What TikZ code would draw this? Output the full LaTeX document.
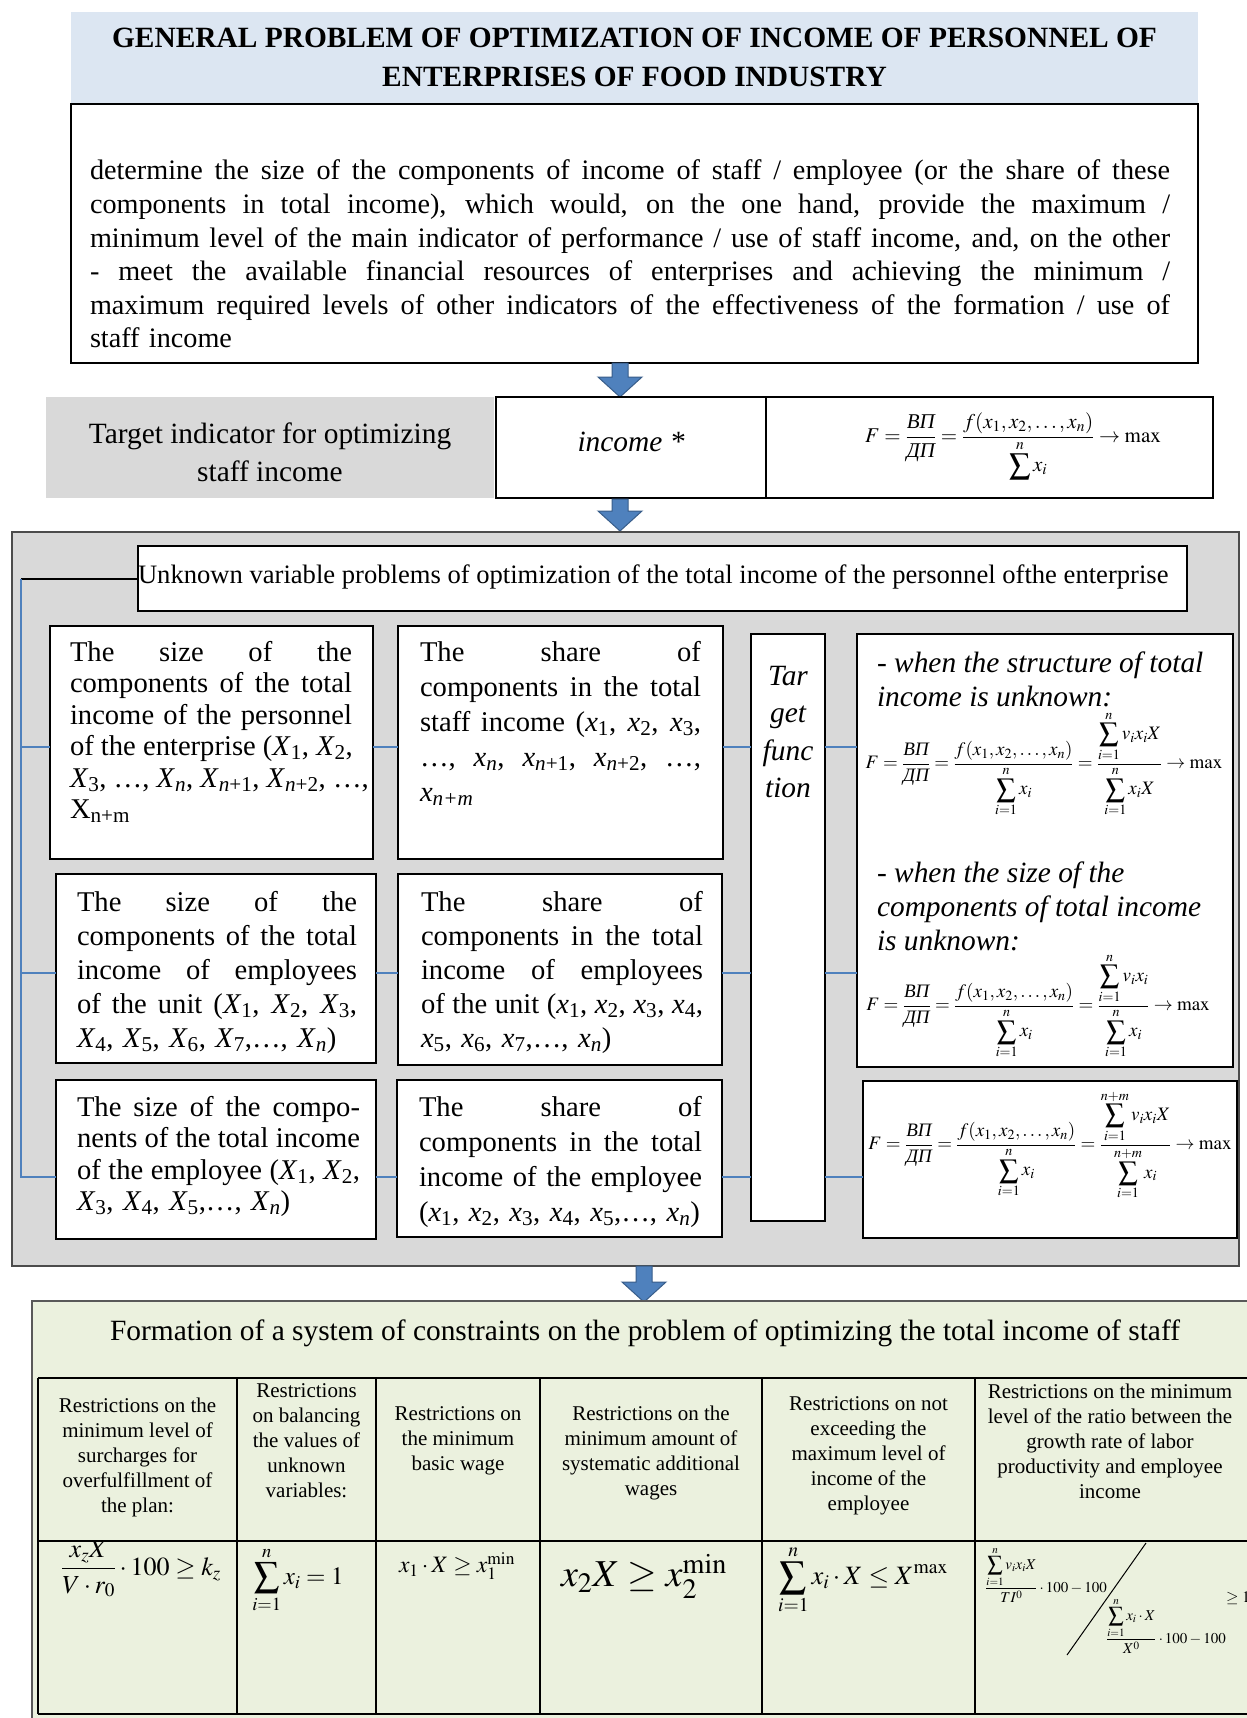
\RequirePackage{fix-cm}
\documentclass[tikz,border=0pt]{standalone}
\usepackage{amsmath}
\usepackage{mathptmx}
\usepackage{fontspec}
\setmainfont{Liberation Serif}
\setlength\parindent{0pt}
\definecolor{titleblue}{HTML}{DCE6F2}
\definecolor{boxgray}{HTML}{D9D9D9}
\definecolor{lightgreen}{HTML}{EBF1DE}
\definecolor{linkblue}{HTML}{4F81BD}
\definecolor{arrowedge}{HTML}{385D8A}
\newlength\jlw
\newcommand\myfs[2]{\fontsize{#1}{#2}\selectfont}
\newcommand\jl[1]{\hbox to \jlw{\spaceskip=0.25em plus 1fil\xspaceskip=\spaceskip\relax #1}}
\newcommand\cyr[1]{\text{\itshape #1}}
\newcommand\vr[2]{\textit{#1}\textsubscript{#2}}
\newcommand\blockarrow[3]{%
  \filldraw[fill=linkblue, draw=arrowedge, line width=1pt]
  ({#1-8},#2) -- ({#1+8},#2) -- ({#1+8},{#3-20}) -- ({#1+22},{#3-20})
  -- (#1,#3) -- ({#1-22},{#3-20}) -- ({#1-8},{#3-20}) -- cycle;}
\tikzset{
  box/.style={draw=black, line width=1.6pt, fill=white, inner sep=0pt, outer sep=0pt, anchor=north west},
  panel/.style={inner sep=0pt, outer sep=0pt, anchor=north west},
  txt/.style={inner sep=0pt, outer sep=0pt, anchor=north west},
  jw/.style={text width=#1, execute at begin node={\setlength\jlw{#1}}},
  link/.style={draw=linkblue, line width=2pt},
}
\begin{document}
\begin{tikzpicture}[x=1pt,y=-1pt]
\useasboundingbox (0,0) rectangle (1247,1718);
\fill[white] (0,0) rectangle (1247,1718);

% ---------- title ----------
\node[panel, fill=titleblue, minimum width=1127pt, minimum height=91pt,
      font=\bfseries\myfs{29.4}{39}, align=center] (title) at (71,12)
  {GENERAL PROBLEM OF OPTIMIZATION OF INCOME OF PERSONNEL OF\\ENTERPRISES OF FOOD INDUSTRY};

% ---------- general statement ----------
\node[box, minimum width=1127pt, minimum height=259pt] (main) at (71,104) {};
\node[txt, jw=1080pt, font=\myfs{28.2}{33.6}] (maintext) at (90,160) {%
\jl{determine the size of the components of income of staff / employee (or the share of these}
\jl{components in total income), which would, on the one hand, provide the maximum /}
\jl{minimum level of the main indicator of performance / use of staff income, and, on the other}
\jl{- meet the available financial resources of enterprises and achieving the minimum /}
\jl{maximum required levels of other indicators of the effectiveness of the formation / use of}
staff income};

\blockarrow{620}{363}{397}

% ---------- target indicator ----------
\node[panel, fill=boxgray, minimum width=448pt, minimum height=101pt] (tind) at (46,397) {};
\node[font=\myfs{29.4}{38}, align=center] (tindtext) at (270,452)
  {Target indicator for optimizing\\staff income};
\node[box, minimum width=270pt, minimum height=101pt] (inc) at (496,397) {};
\node[font=\itshape\myfs{29.4}{34}] (inctext) at (631,442) {income *};
\node[box, minimum width=447pt, minimum height=101pt] (fbox) at (766,397) {};
\node[font=\myfs{21}{24}] (f0) at (1013,446)
  {$F=\dfrac{\cyr{ВП}}{\cyr{ДП}}=\dfrac{f(x_1,x_2,\ldots,x_n)}{\displaystyle\sum^{n}x_i}\to\max$};

\blockarrow{620}{499}{531}

% ---------- unknown variables panel ----------
\node[panel, fill=boxgray, draw=black!70, line width=1.6pt, minimum width=1227pt, minimum height=734pt] (unkpanel) at (12,532) {};
\node[box, minimum width=1049pt, minimum height=65pt] (hdr) at (138,546) {};
\node[txt, anchor=west, font=\myfs{26.6}{30}] (hdrtext) at (138,577)
  {Unknown variable problems of optimization of the total income of the personnel ofthe enterprise};

\node[box, minimum width=323pt, minimum height=233pt] (A) at (50,626) {};
\node[box, minimum width=325pt, minimum height=233pt] (B) at (398,626) {};
\node[box, minimum width=74pt, minimum height=587pt] (T) at (751,634) {};
\node[box, minimum width=376pt, minimum height=433pt] (F1) at (857,634) {};
\node[box, minimum width=320pt, minimum height=189pt] (C) at (56,874) {};
\node[box, minimum width=324pt, minimum height=191pt] (D) at (398,874) {};
\node[box, minimum width=320pt, minimum height=159pt] (E) at (56,1080) {};
\node[box, minimum width=325pt, minimum height=157pt] (F) at (397,1080) {};
\node[box, minimum width=374pt, minimum height=157pt] (F3) at (863,1081) {};

\node[txt, jw=282pt, font=\myfs{28.6}{31.5}] (Atext) at (70,641) {%
\jl{The size of the}
\jl{components of the total}
\jl{income of the personnel}
\jl{of the enterprise (\vr{X}{1}, \vr{X}{2},}
\jl{\vr{X}{3}, \ldots, \vr{X}{\textit{n}}, \vr{X}{\textit{n}+1}, \vr{X}{\textit{n}+2}, \ldots,}
X\textsubscript{n+m}};

\node[txt, jw=281pt, font=\myfs{28.6}{35}] (Btext) at (420,641) {%
\jl{The share of}
\jl{components in the total}
\jl{staff income (\vr{x}{1}, \vr{x}{2}, \vr{x}{3},}
\jl{\ldots, \vr{x}{\textit{n}}, \vr{x}{\textit{n}+1}, \vr{x}{\textit{n}+2}, \ldots,}
\vr{x}{\textit{n+m}}};

\node[txt, jw=280pt, font=\myfs{28.6}{34}] (Ctext) at (77,891) {%
\jl{The size of the}
\jl{components of the total}
\jl{income of employees}
\jl{of the unit (\vr{X}{1}, \vr{X}{2}, \vr{X}{3},}
\vr{X}{4}, \vr{X}{5}, \vr{X}{6}, \vr{X}{7},\ldots, \vr{X}{\textit{n}})};

\node[txt, jw=282pt, font=\myfs{28.6}{34}] (Dtext) at (421,891) {%
\jl{The share of}
\jl{components in the total}
\jl{income of employees}
\jl{of the unit (\vr{x}{1}, \vr{x}{2}, \vr{x}{3}, \vr{x}{4},}
\vr{x}{5}, \vr{x}{6}, \vr{x}{7},\ldots, \vr{x}{\textit{n}})};

\node[txt, jw=283pt, font=\myfs{28.6}{31.5}] (Etext) at (77,1096) {%
\jl{The size of the compo-}
\jl{nents of the total income}
\jl{of the employee (\vr{X}{1}, \vr{X}{2},}
\vr{X}{3}, \vr{X}{4}, \vr{X}{5},\ldots, \vr{X}{\textit{n}})};

\node[txt, jw=283pt, font=\myfs{28.6}{35}] (Ftext) at (419,1096) {%
\jl{The share of}
\jl{components in the total}
\jl{income of the employee}
(\vr{x}{1}, \vr{x}{2}, \vr{x}{3}, \vr{x}{4}, \vr{x}{5},\ldots, \vr{x}{\textit{n}})};

\node[font=\itshape\myfs{29.4}{37.5}, align=center] (Ttext) at (788,732) {Tar\\get\\func\\tion};

\node[txt, font=\itshape\myfs{29.4}{34}, align=left] (f1t) at (877,652)
  {- when the structure of total\\income is unknown:};
\node[font=\myfs{19}{22}] (f1m) at (1044,764)
  {$F=\dfrac{\cyr{ВП}}{\cyr{ДП}}=\dfrac{f(x_1,x_2,\ldots,x_n)}{\displaystyle\sum_{i=1}^{n}x_i}
   =\dfrac{\displaystyle\sum_{i=1}^{n}v_ix_iX}{\displaystyle\sum_{i=1}^{n}x_iX}\to\max$};
\node[txt, font=\itshape\myfs{29.4}{34}, align=left] (f2t) at (877,862)
  {- when the size of the\\components of total income\\is unknown:};
\node[font=\myfs{19}{22}] (f2m) at (1038,1006)
  {$F=\dfrac{\cyr{ВП}}{\cyr{ДП}}=\dfrac{f(x_1,x_2,\ldots,x_n)}{\displaystyle\sum_{i=1}^{n}x_i}
   =\dfrac{\displaystyle\sum_{i=1}^{n}v_ix_i}{\displaystyle\sum_{i=1}^{n}x_i}\to\max$};
\node[font=\myfs{19}{22}] (f3m) at (1050,1145)
  {$F=\dfrac{\cyr{ВП}}{\cyr{ДП}}=\dfrac{f(x_1,x_2,\ldots,x_n)}{\displaystyle\sum_{i=1}^{n}x_i}
   =\dfrac{\displaystyle\sum_{i=1}^{n+m}v_ix_iX}{\displaystyle\sum_{i=1}^{n+m}x_i}\to\max$};

% connectors
\coordinate (brtop) at (21,579);
\coordinate (brbot) at (21,1178);
\coordinate (r1) at (0,747);
\coordinate (r2) at (0,973);
\coordinate (r3) at (0,1177);
\draw[black, line width=1.6pt] (hdr.west |- brtop) -- (brtop);
\draw[link] (brtop) -- (brbot);
\draw[link] (brtop |- r1) -- (A.west |- r1);
\draw[link] (A.east |- r1) -- (B.west |- r1);
\draw[link] (B.east |- r1) -- (T.west |- r1);
\draw[link] (T.east |- r1) -- (F1.west |- r1);
\draw[link] (brtop |- r2) -- (C.west |- r2);
\draw[link] (C.east |- r2) -- (D.west |- r2);
\draw[link] (D.east |- r2) -- (T.west |- r2);
\draw[link] (T.east |- r2) -- (F1.west |- r2);
\draw[link] (brbot |- r3) -- (E.west |- r3);
\draw[link] (E.east |- r3) -- (F.west |- r3);
\draw[link] (F.east |- r3) -- (T.west |- r3);
\draw[link] (T.east |- r3) -- (F3.west |- r3);

\blockarrow{644}{1266}{1302}

% ---------- constraints ----------
\node[panel, fill=lightgreen, draw=black!65, line width=1.2pt, minimum width=1240pt, minimum height=440pt] (cons) at (32,1301) {};
\node[font=\myfs{29.4}{34}] (constitle) at (645,1333)
  {Formation of a system of constraints on the problem of optimizing the total income of staff};

\begin{scope}[line width=2.4pt]
  \draw (38,1378) -- (1270,1378);
  \draw (38,1541) -- (1270,1541);
  \draw (38,1714) -- (1270,1714);
  \foreach \cx in {38,237,376,540,762,975} \draw (\cx,1378) -- (\cx,1714);
\end{scope}

\begin{scope}[every node/.style={font=\myfs{21}{25}, align=center}]
\node (h1) at (137.5,1457) {Restrictions on the\\minimum level of\\surcharges for\\overfulfillment of\\the plan:};
\node (h2) at (306.5,1441) {Restrictions\\on balancing\\the values of\\unknown\\variables:};
\node (h3) at (458,1441) {Restrictions on\\the minimum\\basic wage};
\node (h4) at (651,1453) {Restrictions on the\\minimum amount of\\systematic additional\\wages};
\node (h5) at (868.5,1456) {Restrictions on not\\exceeding the\\maximum level of\\income of the\\employee};
\node (h6) at (1110,1441) {Restrictions on the minimum\\level of the ratio between the\\growth rate of labor\\productivity and employee\\income};
\end{scope}

\node[font=\myfs{26}{30}] (m1) at (141,1569) {$\dfrac{x_zX}{V\cdot r_0}\cdot 100\geq k_z$};
\node[font=\myfs{25}{30}] (m2) at (298,1580) {$\displaystyle\sum_{i=1}^{n}x_i=1$};
\node[font=\myfs{23.5}{26}] (m3) at (457,1566) {$x_1\cdot X\geq x_1^{\min}$};
\node[font=\myfs{38}{42}] (m4) at (644,1576) {$x_2X\geq x_2^{\min}$};
\node[font=\myfs{26.5}{30}] (m5) at (863,1580) {$\displaystyle\sum_{i=1}^{n}x_i\cdot X\leq X^{\max}$};
\node[font=\myfs{15}{18}] (m6a) at (1046,1575)
  {$\dfrac{\displaystyle\sum_{i=1}^{n}v_ix_iX}{TI^0}\cdot100-100$};
\node[font=\myfs{15}{18}] (m6b) at (1166,1626)
  {$\dfrac{\displaystyle\sum_{i=1}^{n}x_i\cdot X}{X^0}\cdot100-100$};
\coordinate (sl1) at (1146,1543);
\coordinate (sl2) at (1067,1655);
\draw[line width=1pt] (sl1) -- (sl2);
\node[font=\myfs{16}{20}, anchor=west, inner sep=0pt] (m6c) at (1226,1598) {${\geq}\;1$};
\end{tikzpicture}
\end{document}
